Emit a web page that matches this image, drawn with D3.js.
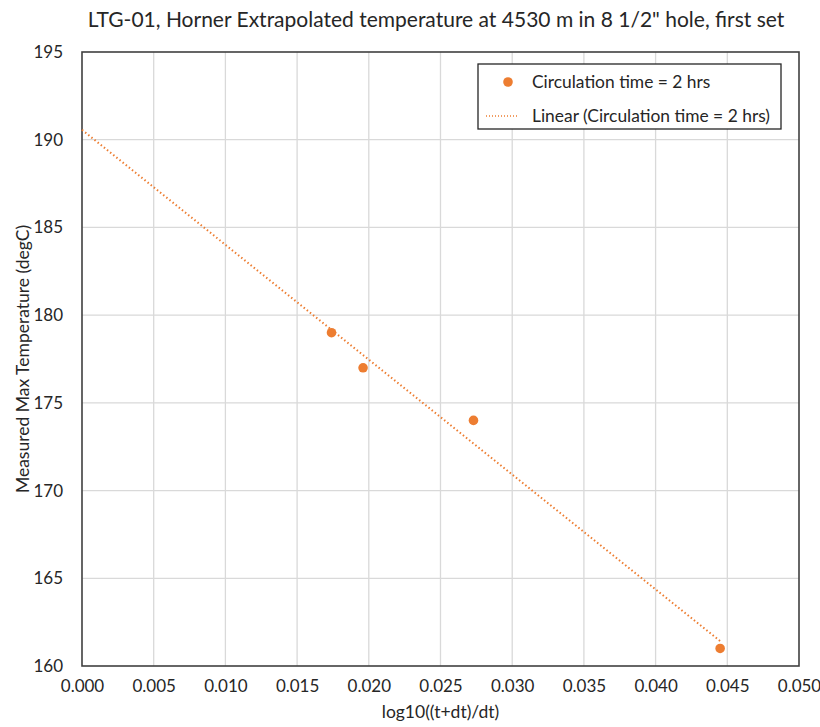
<!DOCTYPE html>
<html>
<head>
<meta charset="utf-8">
<script src="https://cdn.jsdelivr.net/npm/d3@7"></script>
<style>
  body { margin: 0; background: #fff; }
  svg text { font-family: Lato, "Open Sans", sans-serif; fill: #262626; }
</style>
</head>
<body>
<div id="chart"></div>
<script>
const xVals = [0.0174, 0.0196, 0.0273, 0.0445];
const yVals = [179, 177, 174, 161];
const xTicks = [0, 0.005, 0.01, 0.015, 0.02, 0.025, 0.03, 0.035, 0.04, 0.045, 0.05];
const yTicks = [160, 165, 170, 175, 180, 185, 190, 195];
const seriesName = 'Circulation time = 2 hrs';
const color = '#ED7D31';

const W = 820, H = 727;
const margin = { top: 52, right: 21, bottom: 61, left: 82 };
const width = W - margin.left - margin.right;
const height = H - margin.top - margin.bottom;

const svg = d3.select('#chart').append('svg').attr('width', W).attr('height', H);
const g = svg.append('g').attr('transform', `translate(${margin.left},${margin.top})`);

const x = d3.scaleLinear().domain([0, 0.05]).range([0, width]);
const y = d3.scaleLinear().domain([160, 195]).range([height, 0]);

// gridlines
g.append('g').selectAll('line').data(xTicks.slice(1, -1)).join('line')
  .attr('x1', d => x(d)).attr('x2', d => x(d)).attr('y1', 0).attr('y2', height)
  .attr('stroke', '#d9d9d9').attr('stroke-width', 1.3);
g.append('g').selectAll('line').data(yTicks.slice(1, -1)).join('line')
  .attr('y1', d => y(d)).attr('y2', d => y(d)).attr('x1', 0).attr('x2', width)
  .attr('stroke', '#d9d9d9').attr('stroke-width', 1.3);

// frame
g.append('rect').attr('width', width).attr('height', height)
  .attr('fill', 'none').attr('stroke', '#404040').attr('stroke-width', 1.6);

// axes
const xAxis = g.append('g').attr('transform', `translate(0,${height})`)
  .call(d3.axisBottom(x).tickValues(xTicks).tickFormat(d3.format('.3f')).tickSize(0).tickPadding(14));
const yAxis = g.append('g')
  .call(d3.axisLeft(y).tickValues(yTicks).tickSize(0).tickPadding(19));
[xAxis, yAxis].forEach(a => {
  a.select('.domain').remove();
  a.selectAll('text').style('font-size', '17px').style('font-family', 'Lato, sans-serif').attr('fill', '#262626');
});

// linear trendline (least squares)
const mx = d3.mean(xVals), my = d3.mean(yVals);
const slope = d3.sum(xVals, (v, i) => (v - mx) * (yVals[i] - my)) / d3.sum(xVals, v => (v - mx) ** 2);
const icpt = my - slope * mx;
const tx = [0, d3.max(xVals)];
g.append('path')
  .attr('d', d3.line().x(d => x(d)).y(d => y(icpt + slope * d))(tx))
  .attr('stroke', color).attr('stroke-width', 2).attr('stroke-dasharray', '1.5 2.5')
  .attr('fill', 'none');

// points
g.selectAll('circle.pt').data(xVals).join('circle').attr('class', 'pt')
  .attr('cx', d => x(d)).attr('cy', (d, i) => y(yVals[i])).attr('r', 4.8)
  .attr('fill', color);

// legend
const lg = svg.append('g').attr('transform', 'translate(478,64)');
lg.append('rect').attr('width', 303).attr('height', 65).attr('fill', '#fff')
  .attr('stroke', '#262626').attr('stroke-width', 1.3);
lg.append('circle').attr('cx', 30).attr('cy', 18).attr('r', 4.8).attr('fill', color);
lg.append('text').attr('x', 54).attr('y', 24).style('font-size', '17.4px').text(seriesName);
lg.append('line').attr('x1', 8).attr('x2', 39).attr('y1', 52).attr('y2', 52)
  .attr('stroke', color).attr('stroke-width', 1.5).attr('stroke-dasharray', '1 2');
lg.append('text').attr('x', 54).attr('y', 58).style('font-size', '17.4px').text(`Linear (${seriesName})`);

// titles
svg.append('text').attr('x', 436).attr('y', 27).attr('text-anchor', 'middle')
  .style('font-size', '21px').text('LTG-01, Horner Extrapolated temperature at 4530 m in 8 1/2" hole, first set');
svg.append('text').attr('x', margin.left + width / 2).attr('y', 718).attr('text-anchor', 'middle')
  .style('font-size', '17.5px').text('log10((t+dt)/dt)');
svg.append('text').attr('transform', `translate(29,${margin.top + height / 2}) rotate(-90)`)
  .attr('text-anchor', 'middle').style('font-size', '17.5px').text('Measured Max Temperature (degC)');
</script>
</body>
</html>
